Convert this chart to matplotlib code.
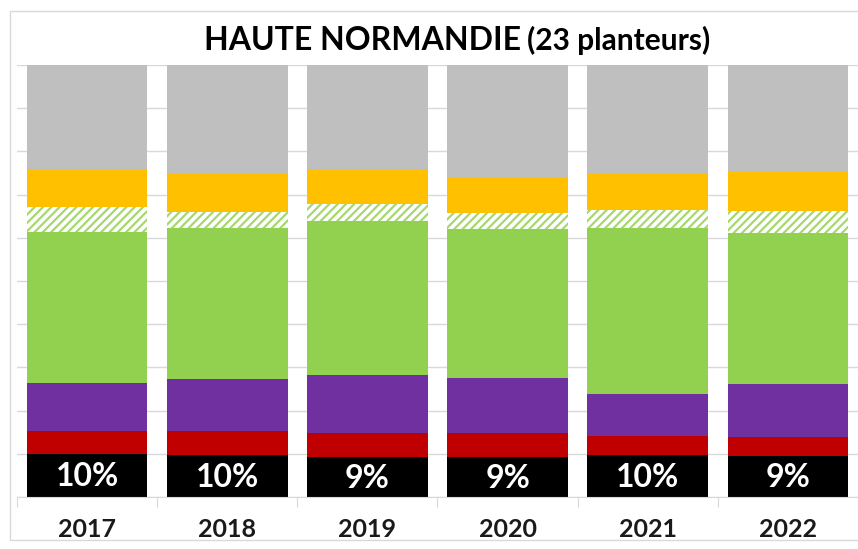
import matplotlib
matplotlib.use("Agg")
import matplotlib.pyplot as plt
from matplotlib.patches import Rectangle
import numpy as np

years = ["2017", "2018", "2019", "2020", "2021", "2022"]
black = [10.0, 9.7, 9.3, 9.3, 9.7, 9.4]
red = [5.3, 5.6, 5.5, 5.5, 4.4, 4.5]
purple = [11.1, 12.0, 13.4, 12.7, 9.7, 12.3]
green = [34.9, 35.0, 35.7, 34.5, 38.5, 34.9]
green_hatched = [5.8, 3.7, 3.9, 3.7, 4.1, 5.1]
orange = [8.8, 8.8, 8.1, 8.1, 8.4, 9.0]
gray = [24.1, 25.2, 24.1, 26.2, 25.2, 24.8]

plt.rcParams['hatch.linewidth'] = 1.6
fig = plt.figure(figsize=(8.58, 5.49), dpi=100)
W, H = 858, 549
ax = fig.add_axes([17 / W, (H - 497) / H, (858 - 17) / W, (497 - 65) / H])

x = np.arange(len(years))
width = 0.86
bottom = np.zeros(len(years))
series = [
    (black, dict(color="#000000")),
    (red, dict(color="#C00000")),
    (purple, dict(color="#7030A0")),
    (green, dict(color="#92D050")),
    (green_hatched, dict(facecolor="#FFFFFF", edgecolor="#A6D86E", hatch="////", linewidth=0)),
    (orange, dict(color="#FFC000")),
    (gray, dict(color="#BFBFBF")),
]
for vals, kw in series:
    v = np.array(vals)
    ax.bar(x, v, width=width, bottom=bottom, zorder=2, **kw)
    bottom += v

for i, v in enumerate(black):
    ax.text(x[i], v / 2 - 0.3, f"{round(v):d}%", ha="center", va="center",
            color="white", fontsize=23, fontweight="bold", family="Lato", zorder=3)

ax.set_xlim(-0.5, len(years) - 0.5)
ax.set_ylim(0, 100)
ax.set_yticks(np.arange(0, 101, 10))
ax.yaxis.grid(True, color="#D9D9D9", linewidth=1, zorder=0)
ax.set_axisbelow(True)
ax.tick_params(axis="y", length=0, labelleft=False)
ax.set_xticks(np.arange(-0.5, len(years), 1))
ax.tick_params(axis="x", length=7, color="#D9D9D9", labelbottom=False, direction="out")
for s in ["top", "right", "left"]:
    ax.spines[s].set_visible(False)
ax.spines["bottom"].set_color("#D9D9D9")

for i, yr in enumerate(years):
    ax.text(x[i], -7.5, yr, ha="center", va="center", fontsize=18,
            fontweight="bold", family="Lato", color="#1a1a1a")

fig.text(521 / W, (H - 40) / H, "HAUTE NORMANDIE", ha="right", va="center",
         fontsize=23, fontweight="bold", family="Lato", color="black")
fig.text(527 / W, (H - 40) / H, "(23 planteurs)", ha="left", va="center",
         fontsize=21.5, fontweight="bold", family="Lato", color="black")

fig.patches.append(Rectangle((10 / W, (H - 540) / H), 1.0, (540 - 11) / H,
                             transform=fig.transFigure, fill=False,
                             edgecolor="#D9D9D9", linewidth=1, zorder=0))

fig.savefig("out.png", dpi=100, facecolor="white")
